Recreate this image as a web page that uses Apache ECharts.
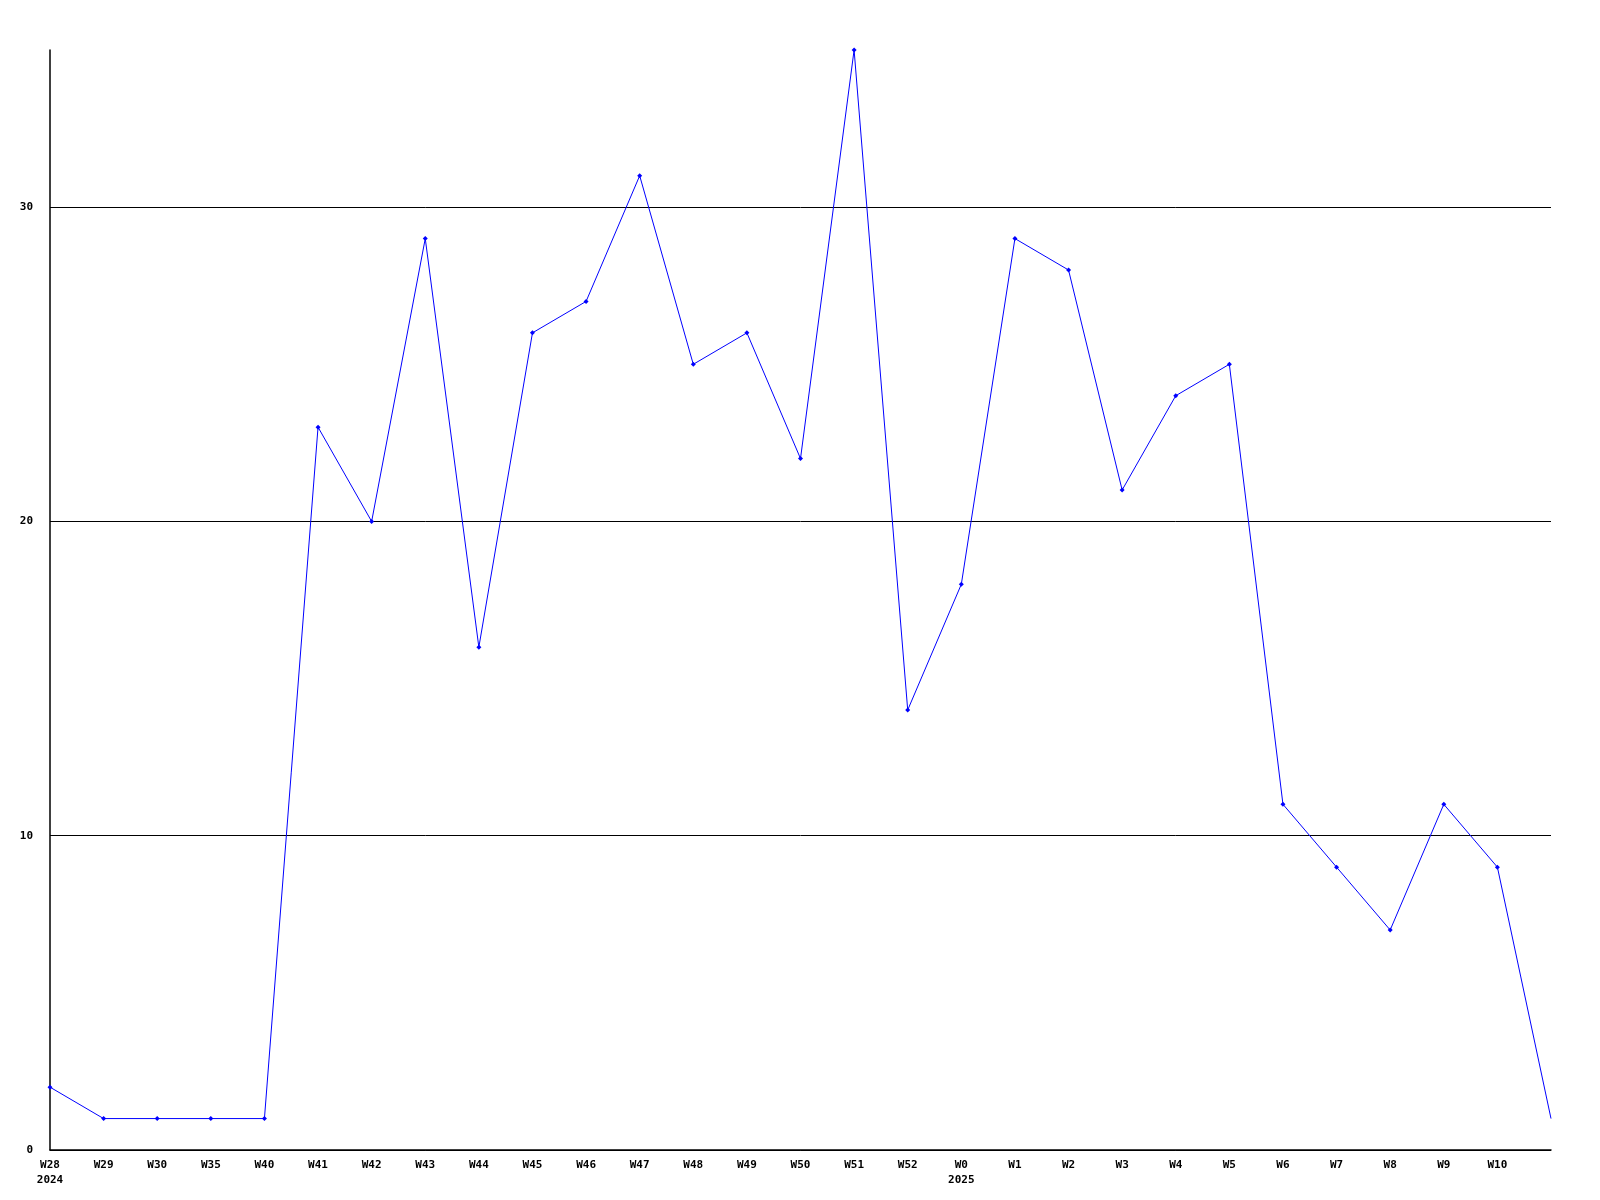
<!DOCTYPE html>
<html><head><meta charset="utf-8">
<script src="https://cdn.jsdelivr.net/npm/echarts@6/dist/echarts.min.js"></script>
<style>html,body{margin:0;padding:0;background:#fff}#c{width:1600px;height:1200px}</style>
</head><body><div id="c"></div>
<script>
const weeks = ['W28','W29','W30','W35','W40','W41','W42','W43','W44','W45','W46','W47','W48','W49','W50','W51','W52','W0','W1','W2','W3','W4','W5','W6','W7','W8','W9','W10',''];
const yearLabels = {'W28':'2024','W0':'2025'};
const values = [2,1,1,1,1,23,20,29,16,26,27,31,25,26,22,35,14,18,29,28,21,24,25,11,9,7,11,9,1];
const yTicks = [0,10,20,30];

const chart = echarts.init(document.getElementById('c'));
const font = {fontFamily:'DejaVu Sans Mono', fontWeight:'bold', fontSize:11, color:'#000'};
chart.setOption({
  animation:false,
  grid:{left:50,right:49,top:50,bottom:50},
  xAxis:{type:'category',data:weeks,boundaryGap:false,
    axisLine:{lineStyle:{color:'#000',width:1.5}},
    axisTick:{show:false},
    axisLabel:Object.assign({}, font, {interval:0,margin:8,lineHeight:15,
      formatter:(v)=> yearLabels[v] ? v+'\n'+yearLabels[v] : v})},
  yAxis:{type:'value',min:0,max:35,interval:10,
    axisLine:{show:true,lineStyle:{color:'#000',width:1.5}},
    axisTick:{show:false},
    axisLabel:Object.assign({}, font, {margin:17,showMaxLabel:false,
      formatter:(v)=> yTicks.includes(v) ? String(v) : ''}),
    splitLine:{show:true,showMaxLine:false,lineStyle:{color:'#000',width:1}}},
  series:[{type:'line',
    data: values.map((v,i)=> i===values.length-1 ? {value:v,symbol:'none'} : v),
    symbol:'diamond',symbolSize:5,
    lineStyle:{color:'#0000ff',width:1},
    itemStyle:{color:'#0000ff'}}]
});
</script></body></html>
